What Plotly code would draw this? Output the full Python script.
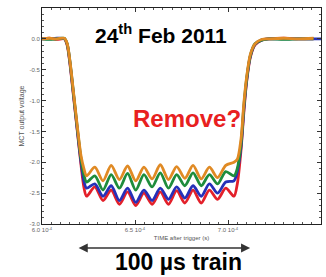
import plotly.graph_objects as go
import numpy as np

# time grid in microseconds
time_us = [600, 604, 608, 612, 613.5, 615, 617, 619, 621, 622.5,
           624, 628.4, 632.8, 637.2, 641.6, 646, 650.4, 654.8, 659.2, 663.6,
           668, 672.4, 676.8, 681.2, 685.6, 690, 694.4, 698.8, 703.2,
           705, 707, 708.5, 710, 712, 714.5, 718, 722, 730, 738, 746]

red = [0.0, 0.01, -0.01, 0.0, -0.1, -0.4, -0.95, -1.5, -2.05, -2.4,
       -2.55, -2.4, -2.62, -2.45, -2.68, -2.48, -2.7, -2.5, -2.68, -2.48,
       -2.68, -2.46, -2.66, -2.45, -2.66, -2.45, -2.6, -2.42, -2.55,
       -2.35, -1.8, -1.2, -0.7, -0.3, -0.1, -0.02, 0.0, 0.01, 0.0, 0.0]
blue = [0.0, 0.0, 0.01, 0.0, -0.08, -0.38, -0.92, -1.48, -2.0, -2.3,
        -2.42, -2.35, -2.55, -2.38, -2.62, -2.42, -2.65, -2.45, -2.62, -2.42,
        -2.6, -2.4, -2.58, -2.38, -2.55, -2.35, -2.5, -2.32, -2.3,
        -2.15, -1.75, -1.15, -0.68, -0.28, -0.09, -0.02, 0.0, 0.0, 0.0, 0.0]
green = [0.0, -0.01, 0.0, 0.01, -0.08, -0.36, -0.9, -1.45, -1.95, -2.2,
         -2.32, -2.22, -2.45, -2.2, -2.42, -2.18, -2.45, -2.2, -2.4, -2.17,
         -2.42, -2.2, -2.38, -2.17, -2.38, -2.2, -2.35, -2.15, -2.22,
         -2.1, -1.7, -1.1, -0.65, -0.27, -0.08, -0.02, 0.0, -0.01, 0.0, 0.0]
orange = [0.0, 0.01, 0.0, 0.01, -0.07, -0.35, -0.88, -1.42, -1.9, -2.1,
          -2.22, -2.08, -2.3, -2.05, -2.28, -2.06, -2.3, -2.08, -2.27, -2.04,
          -2.28, -2.07, -2.26, -2.05, -2.27, -2.08, -2.25, -2.05, -2.0,
          -1.95, -1.62, -1.05, -0.62, -0.25, -0.08, -0.01, 0.0, 0.01, 0.0, 0.01]

blue_tail_us = [746, 750]
blue_tail = [0.0, 0.0]

x_tickvals = [6.0e-4, 6.5e-4, 7.0e-4, 7.5e-4]
x_ticktext = ["6.0 10<sup>-4</sup>", "6.5 10<sup>-4</sup>", "7.0 10<sup>-4</sup>", "7.5 10<sup>-4</sup>"]
y_tickvals = [0.0, -0.5, -1.0, -1.5, -2.0, -2.5, -3.0]
y_ticktext = ["0.0", "-0.5", "-1.0", "-1.5", "-2.0", "-2.5", "-3.0"]

t = np.array(time_us) * 1e-6

fig = go.Figure()
series = [("red", red, "#e3202a"), ("blue", blue, "#2630b8"),
          ("green", green, "#1e8c3c"), ("orange", orange, "#e08a24")]
for name, ys, col in series:
    xs = t
    yv = ys
    if name == "blue":
        xs = np.concatenate([t, np.array(blue_tail_us) * 1e-6])
        yv = ys + blue_tail
    fig.add_trace(go.Scatter(x=xs, y=yv, mode="lines", name=name,
                             line=dict(color=col, width=2.8, shape="spline", smoothing=0.8),
                             showlegend=False))

axis_common = dict(showline=True, linecolor="#222", linewidth=1, mirror="ticks",
                   ticks="inside", ticklen=4, tickcolor="#333", showgrid=False, zeroline=False,
                   automargin=False,
                   tickfont=dict(size=6, color="#666", family="Arial, Liberation Sans"))
fig.update_xaxes(range=[6.0e-4, 7.5e-4], tickvals=x_tickvals, ticktext=x_ticktext,
                 minor=dict(ticks="inside", ticklen=2, dtick=0.05e-4, tickcolor="#555"),
                 title=dict(text="TIME after trigger (s)", font=dict(size=6, color="#555",
                            family="Arial, Liberation Sans"), standoff=3),
                 **axis_common)
fig.update_yaxes(range=[-3.0, 0.5], tickvals=y_tickvals, ticktext=y_ticktext,
                 minor=dict(ticks="inside", ticklen=2, dtick=0.1, tickcolor="#555"),
                 title=dict(text="MCT output voltage", font=dict(size=7, color="#555",
                            family="Arial, Liberation Sans"), standoff=4),
                 **axis_common)

fig.add_annotation(x=0.425, y=0.88, xref="paper", yref="paper", yanchor="middle",
                   text="<b>24<sup>th</sup> Feb 2011</b>", showarrow=False,
                   font=dict(size=21, color="black", family="Arial, Liberation Sans"))
fig.add_annotation(x=0.52, y=0.49, xref="paper", yref="paper",
                   text="<b>Remove?</b>", showarrow=False,
                   font=dict(size=24, color="#e82020", family="Arial, Liberation Sans"))
fig.add_annotation(x=0.49, y=-0.178, xref="paper", yref="paper", yanchor="middle",
                   text="<b>100 µs train</b>", showarrow=False,
                   font=dict(size=23, color="black", family="Arial, Liberation Sans"))
fig.add_annotation(x=0.746, y=-0.111, xref="x domain", yref="y domain",
                   axref="pixel", ayref="pixel", ax=-173, ay=0, text="", showarrow=True,
                   arrowside="end+start", arrowhead=2, arrowsize=1.3, arrowwidth=1.4,
                   arrowcolor="#333")

fig.update_layout(width=326, height=277, margin=dict(l=42, r=5, t=8, b=53),
                  plot_bgcolor="white", paper_bgcolor="white")
fig.write_html("out.html", config={"displayModeBar": False},
               post_script="document.body.style.margin='0';document.body.style.padding='0';")
